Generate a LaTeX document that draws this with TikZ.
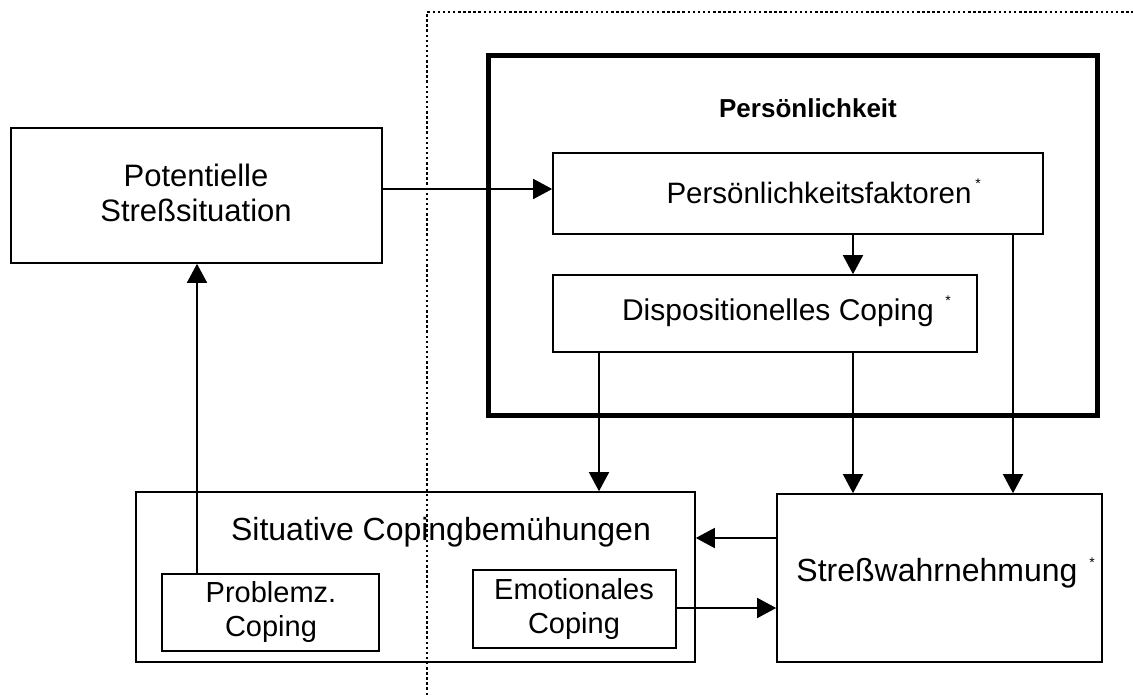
\documentclass[tikz,border=0pt]{standalone}
\usepackage{fontspec}
\setmainfont{Liberation Sans}
\usetikzlibrary{arrows.meta}
\begin{document}
\begin{tikzpicture}[x=1pt,y=-1pt,
  box/.style={draw,line width=1.6pt,inner sep=0pt,minimum width=#1},
  txt/.style={inner sep=0pt,align=center,font=\fontsize{30}{35}\selectfont},
  btxt/.style={inner sep=0pt,align=center,font=\fontsize{32}{35}\selectfont},
  stxt/.style={inner sep=0pt,align=center,font=\fontsize{29}{34}\selectfont},
  star/.style={inner sep=0pt,font=\fontsize{14}{14}\selectfont},
  arr/.style={line width=1.6pt,-{Triangle[width=20pt,length=19pt]}},
  dotline/.style={line width=2pt,dash pattern=on 2.5pt off 2.6pt}]
\useasboundingbox (0,0) rectangle (1133,695);
% boxes
\node[box=371pt,minimum height=135pt] (pot) at (196.5,195.5) {};
\node[draw,line width=5pt,inner sep=0pt,minimum width=609pt,minimum height=359pt] (pers) at (792.5,235.5) {};
\node[box=490pt,minimum height=81pt] (fak) at (798,193.5) {};
\node[box=424pt,minimum height=77pt] (disp) at (765,313.5) {};
\node[box=559pt,minimum height=170pt] (sit) at (415.5,577) {};
\node[box=217pt,minimum height=77pt] (prob) at (270.5,612.5) {};
\node[box=203pt,minimum height=78pt] (emo) at (574.5,609) {};
\node[box=325pt,minimum height=168pt] (stress) at (939.5,578) {};
% texts
\node[inner sep=0pt,align=center,font=\fontsize{31}{35}\selectfont] (tpot) at (196,193) {Potentielle\\Streßsituation};
\node[inner sep=0pt,font=\bfseries\fontsize{26}{30}\selectfont] (tpers) at (808,108) {Persönlichkeit};
\node[inner sep=0pt,font=\fontsize{29.5}{34}\selectfont] (tfak) at (819,193) {Persönlichkeitsfaktoren};
\node[star] (sfak) at (978,184) {*};
\node[txt] (tdisp) at (778,313) {Dispositionelles Coping};
\node[star] (sdisp) at (948,301) {*};
\node[btxt] (tsit) at (441,532) {Situative Copingbemühungen};
\node[stxt] (tprob) at (271,612) {Problemz.\\Coping};
\node[stxt] (temo) at (574,609) {Emotionales\\Coping};
\node[btxt] (tstress) at (937,573) {Streßwahrnehmung};
\node[star] (sstress) at (1092,563) {*};
% helper coordinates
\coordinate (h189) at (0,189);
\coordinate (v853) at (853,0);
\coordinate (v1013) at (1013,0);
\coordinate (v599) at (599,0);
\coordinate (h538) at (0,538);
\coordinate (h608) at (0,608);
\coordinate (v197) at (197,0);
% connectors
\draw[arr] (pot.east |- h189) -- (fak.west |- h189);
\draw[arr] (fak.south -| v853) -- (disp.north -| v853);
\draw[arr] (fak.south -| v1013) -- (stress.north -| v1013);
\draw[arr] (disp.south -| v599) -- (sit.north -| v599);
\draw[arr] (disp.south -| v853) -- (stress.north -| v853);
\draw[arr] (stress.west |- h538) -- (sit.east |- h538);
\draw[arr] (emo.east |- h608) -- (stress.west |- h608);
\draw[arr] (prob.north -| v197) -- (pot.south -| v197);
% dotted boundary
\coordinate (d1) at (427,695);
\coordinate (d2) at (427,12);
\coordinate (d3) at (1133,12);
\draw[dotline] (d1) -- (d2) -- (d3);
\end{tikzpicture}
\end{document}
